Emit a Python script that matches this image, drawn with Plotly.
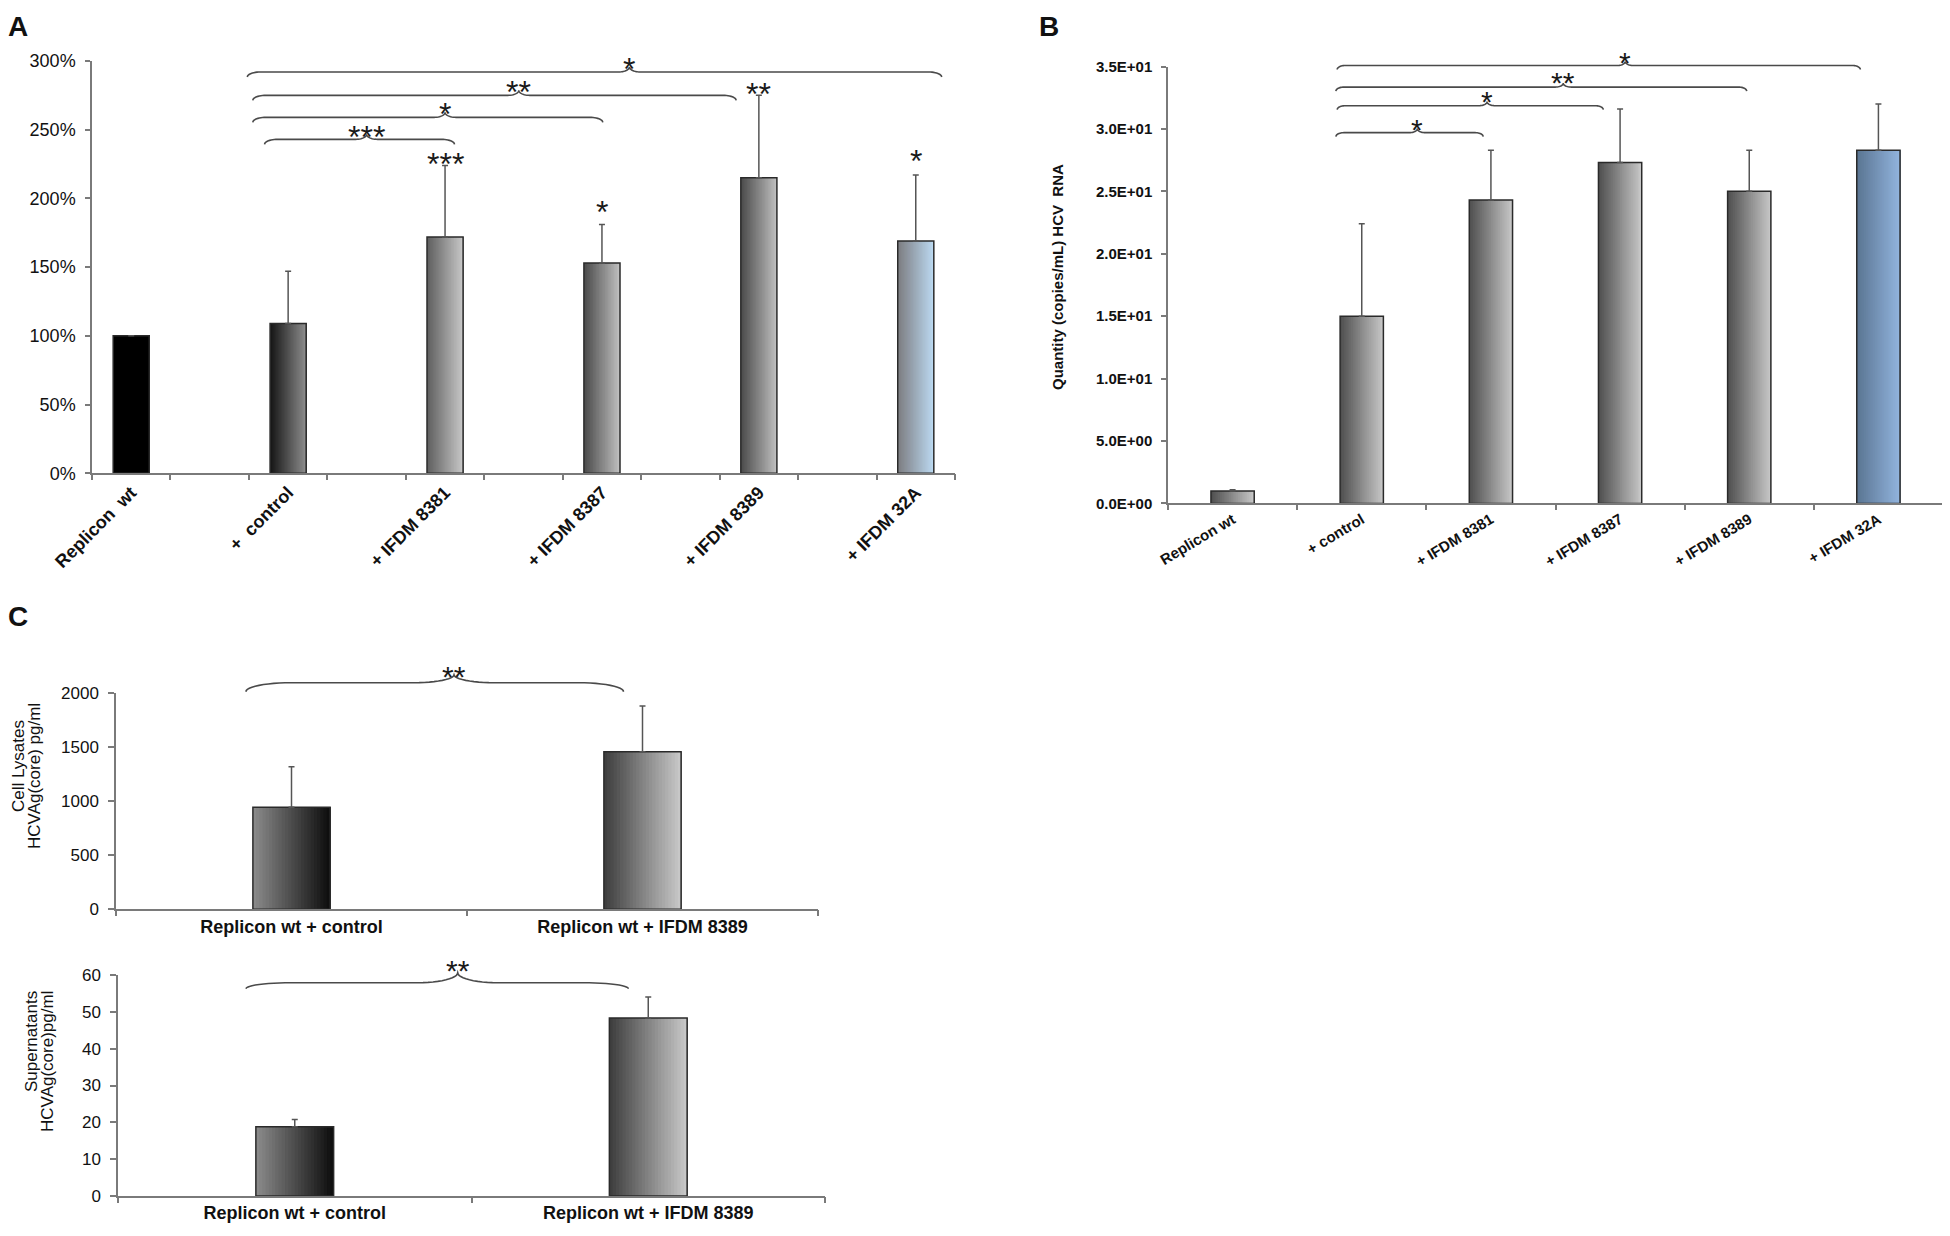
import math
import plotly.graph_objects as go

# target page size and the browser's default body margin (page offset of the figure)
PAGE_W, PAGE_H = 1950, 1236
OFF = 8
W, H = PAGE_W - OFF, PAGE_H - OFF

# ---------------- Panel A: replicon activity (% of Replicon wt) ----------------
A_LABELS = ["Replicon\u00a0 wt", "+\u00a0 control", "+ IFDM 8381", "+ IFDM 8387", "+ IFDM 8389", "+ IFDM 32A"]
A_VALUES = [100, 109, 172, 153, 215, 169]
A_ERRORS = [None, 38, 52, 28, 60, 48]
A_YTICKS = [0, 50, 100, 150, 200, 250, 300]
A_STARS = ["", "", "***", "*", "**", "*"]
A_STAR_LEVEL = [None, None, 230, 195, 281, 232]
A_BR_FROM = [1.70, 1.55, 1.55, 1.48]
A_BR_TO = [4.12, 6.01, 7.71, 10.33]
A_BR_TIP = [3.0, 4.0, 4.94, 6.35]
A_BR_LEVEL = [243, 259, 275, 292]
A_BR_TEXT = ["***", "*", "**", "*"]
A_BR_TEXT_LEVEL = [250, 266.5, 282.5, 299.3]

# ---------------- Panel B: HCV RNA quantity ----------------
B_LABELS = ["Replicon wt", "+ control", "+ IFDM 8381", "+ IFDM 8387", "+ IFDM 8389", "+ IFDM 32A"]
B_VALUES = [1.0, 15.0, 24.3, 27.3, 25.0, 28.3]
B_ERRORS = [0.1, 7.4, 4.0, 4.3, 3.3, 3.7]
B_YTICKS = [0, 5, 10, 15, 20, 25, 30, 35]
B_YTICKTEXT = ["0.0E+00", "5.0E+00", "1.0E+01", "1.5E+01", "2.0E+01", "2.5E+01", "3.0E+01", "3.5E+01"]
B_BR_FROM = [0.80, 0.81, 0.80, 0.81]
B_BR_TO = [1.94, 2.87, 3.98, 4.86]
B_BR_TIP = [1.43, 1.97, 2.56, 3.04]
B_BR_LEVEL = [29.7, 31.86, 33.35, 35.08]
B_BR_TEXT = ["*", "*", "**", "*"]
B_BR_TEXT_LEVEL = [30.54, 32.74, 34.31, 35.91]

# ---------------- Panel C: HCVAg(core) ----------------
C_LABELS = ["Replicon wt + control", "Replicon wt + IFDM 8389"]
C1_VALUES = [944, 1459]
C1_ERRORS = [376, 424]
C1_YTICKS = [0, 500, 1000, 1500, 2000]
C1_BR = dict(frm=-0.13, to=0.946, tip=0.463, level=2098, text="**", text_level=2217)
C2_VALUES = [18.8, 48.3]
C2_ERRORS = [2.0, 5.7]
C2_YTICKS = [0, 10, 20, 30, 40, 50, 60]
C2_BR = dict(frm=-0.138, to=0.944, tip=0.461, level=57.9, text="**", text_level=63.2)

# ---------------- styles ----------------
FONT = "Liberation Sans, Arial, sans-serif"
AX = "#7a7a7a"
TXT = "#111111"
OUTLINE = "#2a2a2a"
ERRC = "#555555"
BRACE_C = "#4a4a4a"

A_FILL = [("#000000", "#000000"), ("#141414", "#8e8e8e"), ("#5e5e5e", "#c8c8c8"),
          ("#4a4a4a", "#c0c0c0"), ("#4a4a4a", "#c0c0c0"), ("#7c7c80", "#bcdaf2")]
B_FILL = [("#4e4e4e", "#c8c8c8")] * 5 + [("#5a7592", "#92b4de")]
C_FILL = [("#8c8c8c", "#0c0c0c"), ("#3c3c3c", "#cacaca")]

# panel pixel boxes on the page (left, right, top, bottom) and axis ranges
PANELS = {
    "A": dict(x0=92, x1=955, y0=61, y1=473.3, xr=(-0.5, 10.5), yr=(0, 300), xa="x", ya="y", tx="x5"),
    "B": dict(x0=1168, x1=1943, y0=66.5, y1=503.4, xr=(-0.5, 5.5), yr=(0, 35), xa="x2", ya="y2", tx="x6"),
    "C1": dict(x0=116, x1=818, y0=693.3, y1=909.3, xr=(-0.5, 1.5), yr=(0, 2000), xa="x3", ya="y3", tx="x7"),
    "C2": dict(x0=118, x1=825, y0=975, y1=1196, xr=(-0.5, 1.5), yr=(0, 60), xa="x4", ya="y4", tx="x8"),
}


def px_to_paper_x(px):
    return (px - OFF) / W


def px_to_paper_y(py):
    return 1 - (py - OFF) / H


def dom_x(p):
    return [px_to_paper_x(p["x0"]), px_to_paper_x(p["x1"])]


def dom_y(p):
    return [px_to_paper_y(p["y1"]), px_to_paper_y(p["y0"])]


def paper_y(p, v):
    d0, d1 = dom_y(p)
    r0, r1 = p["yr"]
    return d0 + (v - r0) / (r1 - r0) * (d1 - d0)


def scales(p):
    sx = (p["x1"] - p["x0"]) / (p["xr"][1] - p["xr"][0])
    sy = (p["y1"] - p["y0"]) / (p["yr"][1] - p["yr"][0])
    return sx, sy


def hex_rgb(h):
    h = h.lstrip("#")
    return tuple(int(h[i:i + 2], 16) for i in (0, 2, 4))


def mix(c1, c2, t):
    a, b = hex_rgb(c1), hex_rgb(c2)
    return "rgb(%d,%d,%d)" % tuple(round(a[i] + (b[i] - a[i]) * t) for i in range(3))


fig = go.Figure()


def add_bars(p, xs, values, errors, fills, width, n=24):
    # horizontal colour gradient built from overlapping slices of the same bars
    for i in range(n):
        t = (i + 0.5) / n
        fig.add_trace(go.Bar(
            x=xs, y=values,
            width=[width * (n - i) / n] * len(xs),
            offset=[-width / 2 + width * i / n] * len(xs),
            marker=dict(color=[mix(l, r, t) for l, r in fills], line=dict(width=0)),
            xaxis=p["xa"], yaxis=p["ya"], showlegend=False, hoverinfo="skip"))
    fig.add_trace(go.Bar(
        x=xs, y=values, width=[width] * len(xs), offset=[-width / 2] * len(xs),
        marker=dict(color="rgba(0,0,0,0)", line=dict(color=OUTLINE, width=1.5)),
        error_y=dict(type="data", symmetric=False, array=errors, arrayminus=[0] * len(xs),
                     color=ERRC, thickness=1.5, width=3),
        xaxis=p["xa"], yaxis=p["ya"], showlegend=False))


def brace_shape(p, xa, xb, xt, level, curl, corner, tip_h, tip_w, n=12):
    sx, sy = scales(p)
    cw, ch, tw, th = corner / sx, curl / sy, tip_w / sx, tip_h / sy
    pts = []
    for k in range(n + 1):
        t = k / n * math.pi / 2
        pts.append((xa + cw * (1 - math.cos(t)), level - ch * (1 - math.sin(t))))
    for k in range(n + 1):
        t = k / n * math.pi / 2
        pts.append((xt - tw + tw * math.sin(t), level + th * (1 - math.cos(t))))
    for k in range(n, -1, -1):
        t = k / n * math.pi / 2
        pts.append((xt + tw - tw * math.sin(t), level + th * (1 - math.cos(t))))
    for k in range(n, -1, -1):
        t = k / n * math.pi / 2
        pts.append((xb - cw * (1 - math.cos(t)), level - ch * (1 - math.sin(t))))
    path = "M " + " L ".join("%.5f,%.6f" % (x, paper_y(p, y)) for x, y in pts)
    fig.add_shape(type="path", path=path, xref=p["xa"], yref="paper",
                  line=dict(color=BRACE_C, width=1.6), layer="above")


annotations = []


def star(p, x, level, text, size):
    annotations.append(dict(x=x, y=paper_y(p, level), xref=p["xa"], yref="paper", text=text,
                            showarrow=False, xanchor="center", yanchor="middle",
                            yshift=-round(size * 0.22),
                            font=dict(family=FONT, size=size, color="#1a1a1a")))


# ---------------- Panel A ----------------
pA = PANELS["A"]
A_X = [2 * i for i in range(len(A_VALUES))]
add_bars(pA, A_X, A_VALUES, A_ERRORS, A_FILL, 0.46)
for i in range(len(A_BR_FROM)):
    brace_shape(pA, A_BR_FROM[i], A_BR_TO[i], A_BR_TIP[i], A_BR_LEVEL[i], 5, 13, 5, 11)
    star(pA, A_BR_TIP[i], A_BR_TEXT_LEVEL[i], A_BR_TEXT[i], 32)
for x, s, lv in zip(A_X, A_STARS, A_STAR_LEVEL):
    if s:
        star(pA, x, lv, s, 32)

# ---------------- Panel B ----------------
pB = PANELS["B"]
B_X = list(range(len(B_VALUES)))
add_bars(pB, B_X, B_VALUES, B_ERRORS, B_FILL, 0.335)
for i in range(len(B_BR_FROM)):
    brace_shape(pB, B_BR_FROM[i], B_BR_TO[i], B_BR_TIP[i], B_BR_LEVEL[i], 4, 8, 4, 8)
    star(pB, B_BR_TIP[i], B_BR_TEXT_LEVEL[i], B_BR_TEXT[i], 30)

# ---------------- Panel C ----------------
pC1, pC2 = PANELS["C1"], PANELS["C2"]
C_X = [0, 1]
add_bars(pC1, C_X, C1_VALUES, C1_ERRORS, C_FILL, 0.22)
add_bars(pC2, C_X, C2_VALUES, C2_ERRORS, C_FILL, 0.22)
brace_shape(pC1, C1_BR["frm"], C1_BR["to"], C1_BR["tip"], C1_BR["level"], 9, 45, 8, 40)
star(pC1, C1_BR["tip"], C1_BR["text_level"], C1_BR["text"], 30)
brace_shape(pC2, C2_BR["frm"], C2_BR["to"], C2_BR["tip"], C2_BR["level"], 6, 45, 10, 40)
star(pC2, C2_BR["tip"], C2_BR["text_level"], C2_BR["text"], 30)

# empty traces so the tick-overlay axes get a subplot
for p in PANELS.values():
    fig.add_trace(go.Scatter(x=[], y=[], xaxis=p["tx"], yaxis=p["ya"], showlegend=False))

# ---------------- axes ----------------
layout_axes = {}


def axis_key(a):
    return ("xaxis" if a[0] == "x" else "yaxis") + a[1:]


def set_axes(p, xlabels, xvals, tickangle, xfont, yvals, ytext, yfont, ticklen_y=5):
    layout_axes[axis_key(p["xa"])] = dict(
        domain=dom_x(p), anchor=p["ya"], range=list(p["xr"]), tickmode="array",
        tickvals=xvals, ticktext=xlabels, ticks="", tickangle=tickangle, tickfont=xfont,
        showline=True, linecolor=AX, linewidth=1.5, showgrid=False, zeroline=False,
        fixedrange=True, automargin=False)
    n_b = int(round(p["xr"][1] - p["xr"][0])) + 1
    layout_axes[axis_key(p["tx"])] = dict(
        overlaying=p["xa"], anchor=p["ya"], range=list(p["xr"]), tickmode="array",
        tickvals=[p["xr"][0] + k for k in range(n_b)], ticks="outside", ticklen=6,
        tickwidth=1.5, tickcolor=AX, showticklabels=False, showline=False,
        showgrid=False, zeroline=False, side="bottom", automargin=False)
    layout_axes[axis_key(p["ya"])] = dict(
        domain=dom_y(p), anchor=p["xa"], range=list(p["yr"]), tickmode="array",
        tickvals=yvals, ticktext=ytext, ticks="outside", ticklen=ticklen_y, tickwidth=1.5,
        tickcolor=AX, tickfont=yfont, showline=True, linecolor=AX, linewidth=1.5,
        showgrid=False, zeroline=False, ticklabelstandoff=6, automargin=False)


set_axes(pA, A_LABELS, A_X, -45, dict(family=FONT, size=18, color=TXT, weight="bold"),
         A_YTICKS, ["%d%%" % v for v in A_YTICKS], dict(family=FONT, size=18, color=TXT))
set_axes(pB, B_LABELS, B_X, -31, dict(family=FONT, size=15, color=TXT, weight="bold"),
         B_YTICKS, B_YTICKTEXT, dict(family=FONT, size=15, color=TXT, weight="bold"))
set_axes(pC1, C_LABELS, C_X, 0, dict(family=FONT, size=18, color=TXT, weight="bold"),
         C1_YTICKS, [str(v) for v in C1_YTICKS], dict(family=FONT, size=17, color=TXT), 6)
set_axes(pC2, C_LABELS, C_X, 0, dict(family=FONT, size=18, color=TXT, weight="bold"),
         C2_YTICKS, [str(v) for v in C2_YTICKS], dict(family=FONT, size=17, color=TXT), 6)


def text_ann(x_px, y_px, text, size, bold=False, angle=0, xanchor="center", yanchor="middle",
             pad=1):
    annotations.append(dict(x=px_to_paper_x(x_px), y=px_to_paper_y(y_px), xref="paper", yref="paper",
                            text=text, showarrow=False, textangle=angle, xanchor=xanchor,
                            yanchor=yanchor, borderpad=pad,
                            font=dict(family=FONT, size=size, color=TXT,
                                      weight="bold" if bold else "normal")))


# panel letters (boxes kept inside the page)
text_ann(18, 26, "A", 28, True, pad=0)
text_ann(1049, 26, "B", 28, True, pad=0)
text_ann(18, 616, "C", 28, True, pad=0)
# axis titles
text_ann(1057, 277, "Quantity (copies/mL) HCV\u00a0 RNA", 15, True, angle=-90)
text_ann(18, 766, "Cell Lysates", 17, angle=-90)
text_ann(35, 776, "HCVAg(core) pg/ml", 17, angle=-90)
text_ann(31, 1042, "Supernatants", 17, angle=-90)
text_ann(47, 1062, "HCVAg(core)pg/ml", 17, angle=-90)

fig.update_layout(
    width=W, height=H, autosize=False, margin=dict(l=0, r=0, t=0, b=0, autoexpand=False),
    paper_bgcolor="white", plot_bgcolor="white", barmode="overlay",
    showlegend=False, annotations=annotations, font=dict(family=FONT, color=TXT),
    **layout_axes)

fig.write_html("out.html")
